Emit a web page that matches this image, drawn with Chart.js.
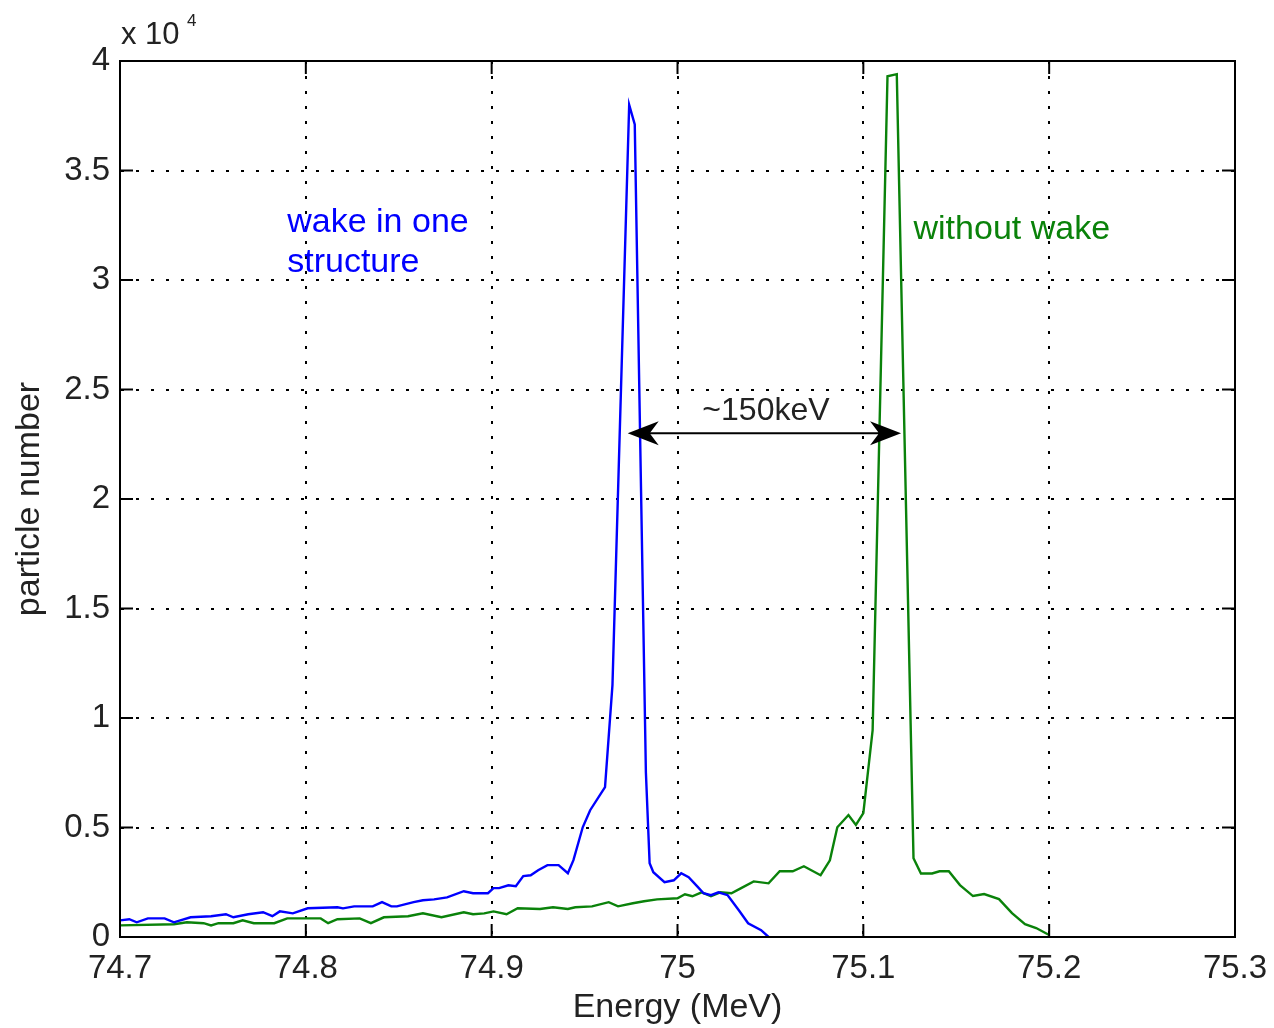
<!DOCTYPE html>
<html>
<head>
<meta charset="utf-8">
<script src="https://cdn.jsdelivr.net/npm/chart.js@4/dist/chart.umd.min.js"></script>
<style>
  body { margin: 0; background: #fff; }
  canvas { display: block; }
</style>
</head>
<body>
<canvas id="spectrumChart" width="1274" height="1028"></canvas>
<script>
// axis ticks (energy in MeV, counts in units of 1e4 particles)
var energyTicks = [74.7, 74.8, 74.9, 75.0, 75.1, 75.2, 75.3];
var countTicks = [0, 0.5, 1, 1.5, 2, 2.5, 3, 3.5, 4];

// spectrum with the wake of one structure
var wakeEnergy = [
  74.700, 74.705, 74.709, 74.715, 74.724, 74.729, 74.738, 74.749, 74.757, 74.761,
  74.769, 74.777, 74.782, 74.786, 74.793, 74.801, 74.817, 74.820, 74.826, 74.836,
  74.841, 74.846, 74.849, 74.858, 74.863, 74.869, 74.876, 74.885, 74.890, 74.898,
  74.901, 74.904, 74.909, 74.913, 74.917, 74.921, 74.925, 74.930, 74.936, 74.941,
  74.944, 74.949, 74.953, 74.961, 74.965, 74.974, 74.977, 74.983, 74.985, 74.987,
  74.993, 74.998, 75.002, 75.006, 75.011, 75.014, 75.018, 75.022, 75.027, 75.033,
  75.038, 75.045, 75.049
];
var wakeCount = [
  0.076, 0.081, 0.067, 0.085, 0.085, 0.067, 0.090, 0.095, 0.104, 0.090,
  0.104, 0.113, 0.095, 0.117, 0.108, 0.131, 0.136, 0.131, 0.140, 0.140,
  0.159, 0.140, 0.140, 0.159, 0.168, 0.172, 0.181, 0.209, 0.200, 0.200,
  0.223, 0.223, 0.236, 0.232, 0.278, 0.282, 0.305, 0.328, 0.328, 0.291,
  0.351, 0.501, 0.579, 0.684, 1.150, 3.800, 3.710, 0.750, 0.337, 0.296,
  0.250, 0.259, 0.291, 0.273, 0.228, 0.200, 0.191, 0.204, 0.191, 0.122,
  0.063, 0.031, 0.000
];

// spectrum without wake
var noWakeEnergy = [
  74.700, 74.729, 74.736, 74.745, 74.749, 74.753, 74.761, 74.766, 74.772, 74.783,
  74.790, 74.801, 74.808, 74.812, 74.817, 74.829, 74.835, 74.842, 74.855, 74.863,
  74.873, 74.885, 74.890, 74.896, 74.901, 74.908, 74.914, 74.926, 74.933, 74.941,
  74.945, 74.954, 74.963, 74.968, 74.976, 74.982, 74.989, 75.000, 75.004, 75.008,
  75.013, 75.018, 75.023, 75.029, 75.034, 75.041, 75.049, 75.055, 75.062, 75.068,
  75.077, 75.082, 75.086, 75.092, 75.096, 75.100, 75.105, 75.113, 75.118, 75.127,
  75.131, 75.137, 75.141, 75.146, 75.152, 75.159, 75.165, 75.173, 75.180, 75.187,
  75.193, 75.200
];
var noWakeCount = [
  0.053, 0.058, 0.067, 0.063, 0.053, 0.063, 0.063, 0.076, 0.063, 0.063,
  0.085, 0.085, 0.085, 0.063, 0.081, 0.085, 0.063, 0.090, 0.095, 0.108,
  0.090, 0.113, 0.104, 0.108, 0.117, 0.104, 0.131, 0.128, 0.136, 0.128,
  0.136, 0.140, 0.159, 0.140, 0.154, 0.163, 0.172, 0.177, 0.195, 0.186,
  0.204, 0.186, 0.204, 0.200, 0.222, 0.254, 0.245, 0.300, 0.300, 0.323,
  0.282, 0.350, 0.501, 0.557, 0.512, 0.566, 0.944, 3.930, 3.940, 0.360,
  0.290, 0.290, 0.300, 0.300, 0.237, 0.187, 0.196, 0.173, 0.109, 0.059,
  0.041, 0.009
];

var blue = '#0000ff';
var green = '#0a820a';
var fontFamily = '"Liberation Sans", Arial, sans-serif';

function toPoints(xs, ys) {
  return xs.map(function (x, i) { return { x: x, y: ys[i] }; });
}

function line(ctx, x1, y1, x2, y2) {
  ctx.beginPath();
  ctx.moveTo(x1, y1);
  ctx.lineTo(x2, y2);
  ctx.stroke();
}

function arrowHead(ctx, tx, ty, dir) {
  ctx.beginPath();
  ctx.moveTo(tx, ty);
  ctx.lineTo(tx + dir * 31, ty - 12);
  ctx.lineTo(tx + dir * 22, ty);
  ctx.lineTo(tx + dir * 31, ty + 12);
  ctx.closePath();
  ctx.fill();
}

// box, inward ticks and the text notes
var framePlugin = {
  id: 'frame',
  afterDraw: function (chart) {
    var ctx = chart.ctx;
    var a = chart.chartArea;
    var xs = chart.scales.x;
    var ys = chart.scales.y;
    ctx.save();
    ctx.setLineDash([]);
    ctx.strokeStyle = '#000';
    ctx.lineWidth = 2;
    ctx.strokeRect(a.left, a.top, a.right - a.left, a.bottom - a.top);
    energyTicks.forEach(function (v) {
      var px = xs.getPixelForValue(v);
      line(ctx, px, a.bottom, px, a.bottom - 13);
      line(ctx, px, a.top, px, a.top + 13);
    });
    countTicks.forEach(function (v) {
      var py = ys.getPixelForValue(v);
      line(ctx, a.left, py, a.left + 13, py);
      line(ctx, a.right, py, a.right - 13, py);
    });

    // exponent label
    ctx.fillStyle = '#222';
    ctx.textBaseline = 'alphabetic';
    ctx.textAlign = 'left';
    ctx.font = '31px ' + fontFamily;
    ctx.fillText('x 10', a.left + 1, 44);
    ctx.font = '17px ' + fontFamily;
    ctx.fillText('4', a.left + 67, 26);

    // curve labels
    ctx.textBaseline = 'middle';
    ctx.font = '34px ' + fontFamily;
    ctx.fillStyle = blue;
    ctx.fillText('wake in one', xs.getPixelForValue(74.79), ys.getPixelForValue(3.26));
    ctx.fillText('structure', xs.getPixelForValue(74.79), ys.getPixelForValue(3.08));
    ctx.fillStyle = green;
    ctx.fillText('without wake', xs.getPixelForValue(75.127), ys.getPixelForValue(3.23));

    // peak separation arrow
    var x1 = xs.getPixelForValue(74.9732);
    var x2 = xs.getPixelForValue(75.1203);
    var ya = ys.getPixelForValue(2.3);
    ctx.strokeStyle = '#000';
    ctx.fillStyle = '#000';
    ctx.lineWidth = 2;
    line(ctx, x1 + 20, ya, x2 - 20, ya);
    arrowHead(ctx, x1, ya, 1);
    arrowHead(ctx, x2, ya, -1);
    ctx.fillStyle = '#222';
    ctx.textAlign = 'center';
    ctx.font = '32px ' + fontFamily;
    ctx.fillText('~150keV', xs.getPixelForValue(75.0476), ys.getPixelForValue(2.4));
    ctx.restore();
  }
};

new Chart(document.getElementById('spectrumChart').getContext('2d'), {
  type: 'line',
  data: {
    datasets: [{
      label: 'wake in one structure',
      data: toPoints(wakeEnergy, wakeCount),
      borderColor: blue,
      borderWidth: 2.4,
      pointRadius: 0,
      tension: 0
    }, {
      label: 'without wake',
      data: toPoints(noWakeEnergy, noWakeCount),
      borderColor: green,
      borderWidth: 2.4,
      pointRadius: 0,
      tension: 0
    }]
  },
  options: {
    responsive: false,
    animation: false,
    layout: {
      padding: { top: 61, right: 39, left: 0, bottom: 0 }
    },
    plugins: {
      legend: { display: false },
      tooltip: { enabled: false }
    },
    scales: {
      x: {
        type: 'linear',
        min: 74.7,
        max: 75.3,
        afterBuildTicks: function (scale) {
          scale.ticks = energyTicks.map(function (v) { return { value: v }; });
        },
        afterFit: function (scale) {
          scale.height = 91;
          // let the end labels hang over the plot edges
          scale.paddingLeft = 0;
          scale.paddingRight = 0;
        },
        border: { display: true, color: '#000', width: 2, dash: [3, 12] },
        grid: { color: '#000', lineWidth: 2, drawTicks: false },
        ticks: {
          color: '#222',
          padding: 12,
          maxRotation: 0,
          font: { family: fontFamily, size: 33 },
          callback: function (v) { return String(Number(v.toFixed(1))); }
        },
        title: {
          display: true,
          text: 'Energy (MeV)',
          color: '#222',
          padding: 0,
          font: { family: fontFamily, size: 34 }
        }
      },
      y: {
        min: 0,
        max: 4,
        afterBuildTicks: function (scale) {
          scale.ticks = countTicks.map(function (v) { return { value: v }; });
        },
        afterFit: function (scale) {
          scale.width = 120;
          scale.paddingTop = 0;
          scale.paddingBottom = 0;
        },
        border: { display: true, color: '#000', width: 2, dash: [3, 12] },
        grid: { color: '#000', lineWidth: 2, drawTicks: false },
        ticks: {
          color: '#222',
          padding: 10,
          font: { family: fontFamily, size: 33 },
          callback: function (v) { return String(v); }
        },
        title: {
          display: true,
          text: 'particle number',
          color: '#222',
          padding: { top: 9, bottom: 0 },
          font: { family: fontFamily, size: 34 }
        }
      }
    }
  },
  plugins: [framePlugin]
});
</script>
</body>
</html>
